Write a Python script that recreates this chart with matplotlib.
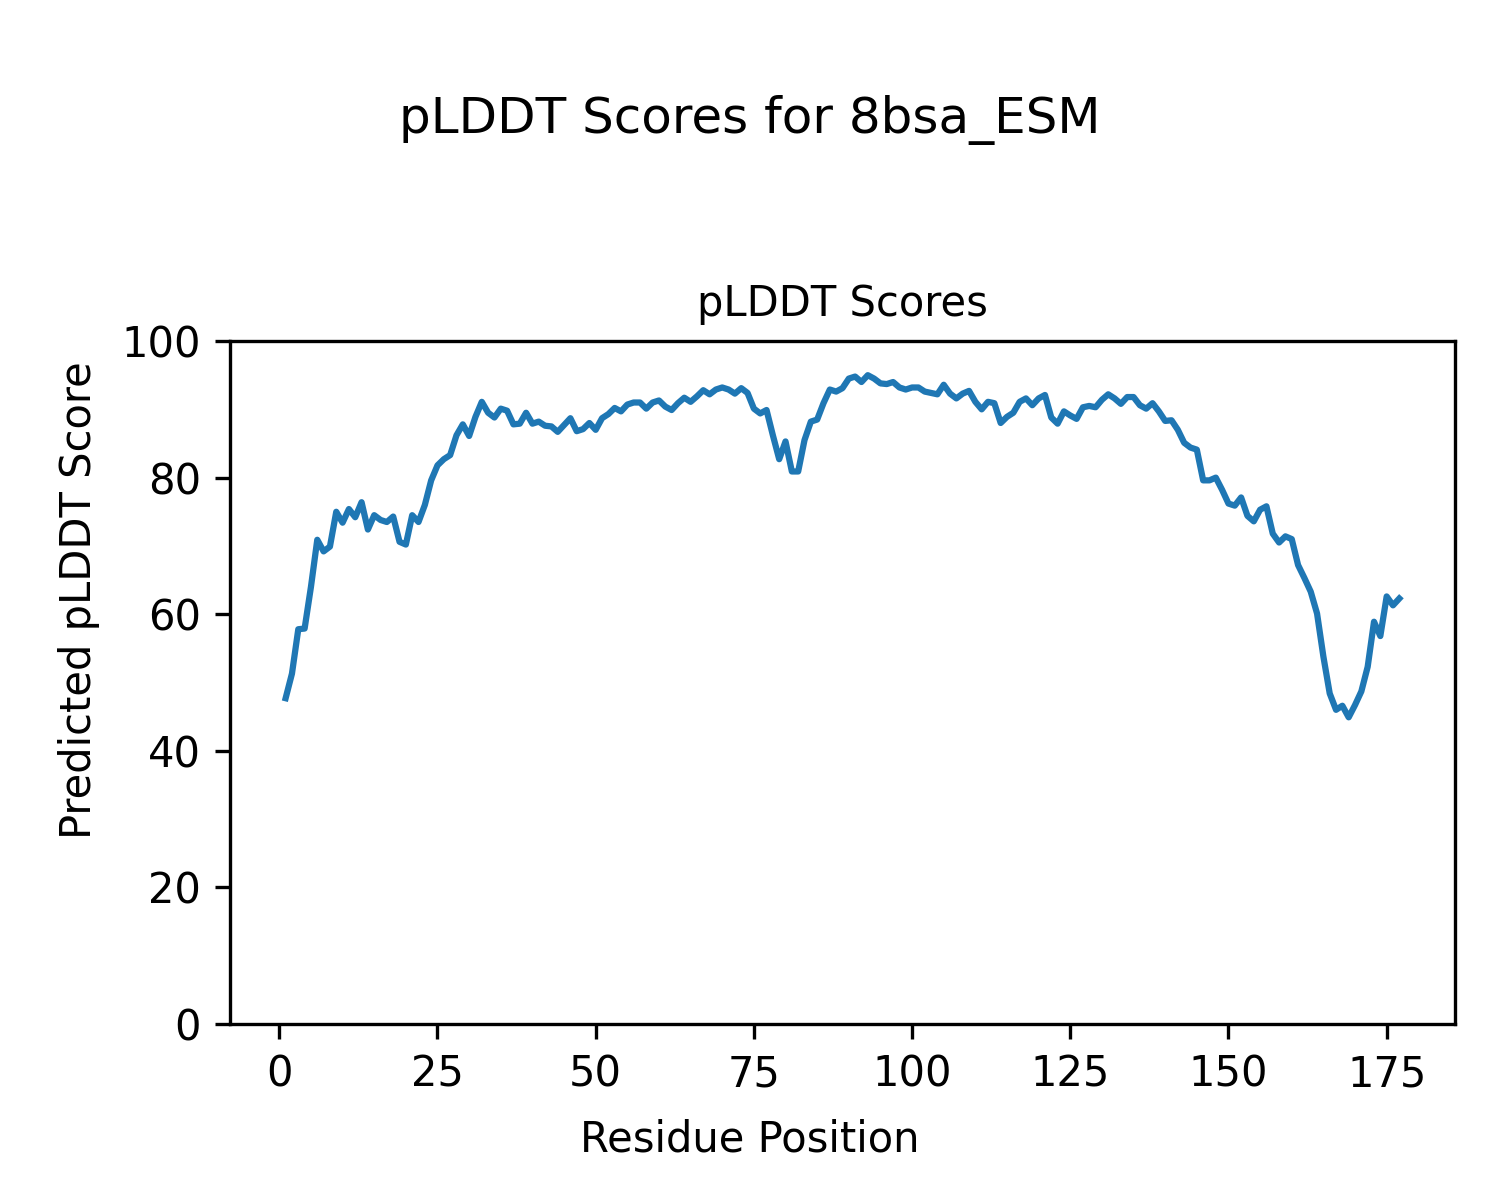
import matplotlib
matplotlib.use("Agg")
import matplotlib.pyplot as plt
import numpy as np

residues = list(range(1, 178))
plddt = [
    47.7, 51.3, 57.8, 57.9, 64.0, 70.9, 69.2, 69.9, 75.0, 73.4,
    75.4, 74.2, 76.4, 72.4, 74.5, 73.8, 73.5, 74.3, 70.6, 70.2,
    74.5, 73.5, 76.0, 79.6, 81.8, 82.7, 83.3, 86.2, 87.8, 86.1,
    88.9, 91.1, 89.5, 88.8, 90.1, 89.8, 87.8, 87.9, 89.5, 87.9,
    88.2, 87.6, 87.5, 86.7, 87.7, 88.7, 86.8, 87.1, 88.0, 87.0,
    88.7, 89.3, 90.2, 89.7, 90.7, 91.0, 91.0, 90.1, 91.0, 91.3,
    90.4, 89.9, 90.9, 91.7, 91.1, 91.9, 92.8, 92.2, 92.9, 93.2,
    92.9, 92.3, 93.1, 92.4, 90.1, 89.4, 89.9, 86.2, 82.7, 85.3,
    80.9, 80.9, 85.5, 88.2, 88.5, 90.9, 92.9, 92.6, 93.1, 94.5,
    94.8, 94.0, 95.0, 94.5, 93.8, 93.7, 94.0, 93.2, 92.9, 93.2,
    93.2, 92.6, 92.4, 92.2, 93.6, 92.3, 91.6, 92.3, 92.7, 91.1,
    90.0, 91.1, 90.9, 88.0, 88.9, 89.5, 91.1, 91.6, 90.6, 91.6,
    92.1, 88.8, 87.9, 89.7, 89.1, 88.6, 90.3, 90.5, 90.3, 91.4,
    92.2, 91.6, 90.8, 91.8, 91.8, 90.6, 90.1, 90.9, 89.7, 88.3,
    88.4, 87.0, 85.1, 84.4, 84.1, 79.6, 79.6, 80.0, 78.2, 76.2,
    75.9, 77.1, 74.4, 73.6, 75.3, 75.8, 71.8, 70.5, 71.4, 71.0,
    67.2, 65.3, 63.3, 60.1, 53.8, 48.4, 46.0, 46.6, 44.9, 46.7,
    48.7, 52.3, 58.9, 56.8, 62.6, 61.3, 62.3,
]

fig = plt.figure(figsize=(5, 4), dpi=300)
ax = fig.add_axes([0.1533, 0.1467, 0.8167, 0.5691])
ax.plot(residues, plddt, color="#1f77b4", linewidth=1.5)
ax.set_ylim(0, 100)
ax.set_title("pLDDT Scores", fontsize=10)
fig.supxlabel("Residue Position", fontsize=10, x=0.5, y=0.05, va="center")
fig.supylabel("Predicted pLDDT Score", fontsize=10, x=0.053, y=0.5, ha="center", va="center")
fig.suptitle("pLDDT Scores for 8bsa_ESM", fontsize=12, y=0.9, va="center")
fig.savefig("out.png", dpi=300)
